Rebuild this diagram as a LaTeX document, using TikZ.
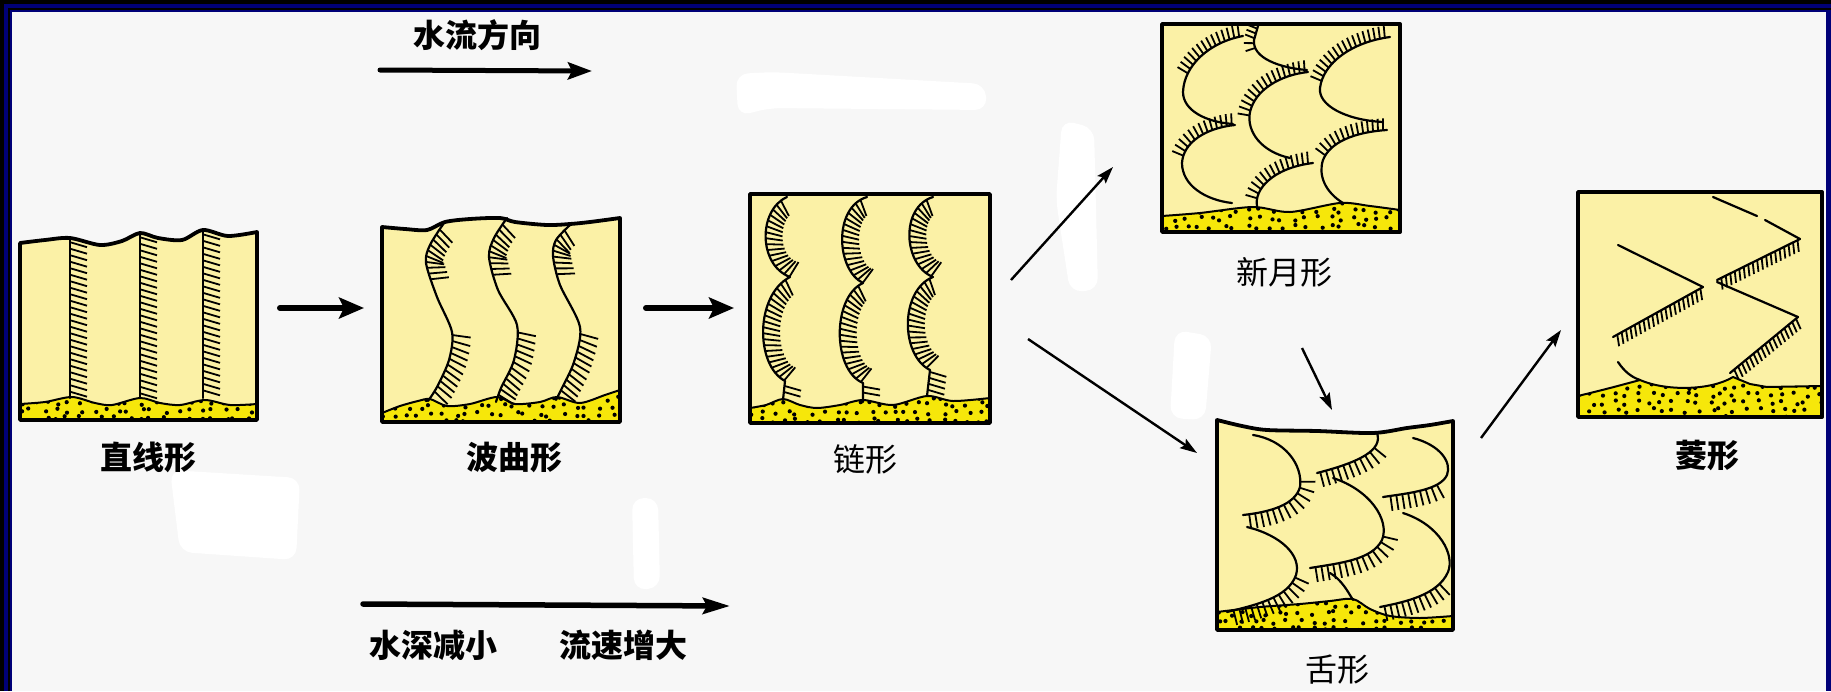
\documentclass[tikz,border=0pt]{standalone}
\usepackage{fontspec}
\newfontfamily\cjk{Noto Sans CJK SC}
\usetikzlibrary{arrows.meta,decorations.markings}

\definecolor{navy}{RGB}{0,0,120}
\definecolor{paper}{RGB}{247,247,247}
\definecolor{dune}{RGB}{251,241,166}
\definecolor{sand}{RGB}{246,231,10}

\tikzset{
  rim/.style={line width=3.8pt, line join=round},
  crest/.style={line width=2.2pt, line cap=round, line join=round},
  sandline/.style={line width=2pt, line join=round},
  tick/.style={line width=1.8pt, line cap=butt},
  hatch/.style n args={4}{postaction={decorate,decoration={markings,
      mark=between positions #1 and #2 step #3 with {\draw[tick] (0pt,0pt) -- #4;}}}},
  flow/.style={line width=6pt, line cap=round, -{Stealth[length=25pt,width=21pt,inset=5pt]}},
  trend/.style={line width=2.4pt, -{Stealth[length=17pt,width=11pt,inset=3pt]}},
  lab/.style={font=\cjk\fontsize{32}{38}\selectfont, inner sep=0pt},
  labb/.style={inner sep=0pt, font=\cjk\bfseries\fontsize{32}{38}\selectfont},
  smudge/.style={fill=white, rounded corners=12pt},
}

% scattered grains inside a sand strip
\newcommand\dotfield[4]{%
  \pgfmathtruncatemacro\dfnx{(#2-#1)/12}%
  \pgfmathtruncatemacro\dfny{(#4-#3)/8}%
  \foreach \dfi in {0,...,\dfnx}{%
    \foreach \dfj in {0,...,\dfny}{%
      \fill ({#1+\dfi*12+rnd*9},{#3+\dfj*8+rnd*5}) circle[radius=2.1];%
    }}}

% outlines of the six bed-form panels and their sand strips
\def\boxA{plot[smooth] coordinates {(20,243) (45,240) (70,238) (100,245) (122,241) (140,233) (158,238) (182,240) (203,230) (228,236) (257,232)} -- (257,420) -- (20,420) -- cycle}
\def\sandA{plot[smooth] coordinates {(20,404) (45,402) (72,397) (95,403) (112,405) (140,398) (160,403) (180,405) (205,400) (230,405) (257,404)} -- (257,420) -- (20,420) -- cycle}
\def\boxB{plot[smooth] coordinates {(382,227) (405,229) (427,230) (445,222) (470,219) (500,218) (515,222) (547,225) (570,224) (590,222) (620,218)} -- (620,422) -- (382,422) -- cycle}
\def\sandB{plot[smooth] coordinates {(382,413) (400,406) (418,401) (430,399) (447,406) (470,404) (497,397) (515,404) (540,402) (557,397) (580,403) (605,395) (620,390)} -- (620,422) -- (382,422) -- cycle}
\def\boxC{(750,194) -- (990,194) -- (990,423) -- (750,423) -- cycle}
\def\sandC{plot[smooth] coordinates {(750,408) (766,405) (783,399) (800,405) (817,408) (840,405) (863,400) (893,405) (927,396) (953,401) (990,398)} -- (990,423) -- (750,423) -- cycle}
\def\boxD{(1162,24) -- (1400,24) -- (1400,232) -- (1162,232) -- cycle}
\def\sandD{plot[smooth] coordinates {(1162,216) (1200,213) (1253,207) (1290,212) (1340,203) (1370,206) (1400,210)} -- (1400,232) -- (1162,232) -- cycle}
\def\boxE{plot[smooth] coordinates {(1217,420) (1242,426) (1267,430) (1317,431) (1373,433) (1407,428) (1430,425) (1453,421)} -- (1453,630) -- (1217,630) -- cycle}
\def\sandE{plot[smooth] coordinates {(1217,612) (1260,607) (1300,604) (1330,601) (1353,599) (1370,609) (1390,616) (1420,618) (1453,616)} -- (1453,630) -- (1217,630) -- cycle}
\def\boxF{(1578,192) -- (1822,192) -- (1822,417) -- (1578,417) -- cycle}
\def\sandF{plot[smooth] coordinates {(1578,396) (1610,388) (1640,380)} .. controls (1665,391) and (1710,391) .. (1733,377) -- (1750,384) -- (1767,387) -- (1822,386) -- (1822,417) -- (1578,417) -- cycle}

\begin{document}
\begin{tikzpicture}[x=1pt,y=-1pt]
\useasboundingbox (0,0) rectangle (1831,691);
\pgfmathsetseed{4711}

% frame and background
\fill[black] (0,0) rectangle (1831,691);
\fill[navy] (4,4) rectangle (1831,691);
\draw[black, line width=1.2pt] (9,691) -- (9,9) -- (1831,9);
\fill[paper] (12,12) rectangle (1826,691);

% faint white smudges on the sheet
\fill[smudge] (736,74) -- (772,72) -- (985,84) -- (987,110) -- (770,108) -- (738,116) -- cycle;
\fill[smudge] (1062,120) -- (1094,128) -- (1098,290) -- (1070,292) -- (1056,200) -- cycle;
\fill[smudge] (1175,330) -- (1212,336) -- (1205,420) -- (1170,418) -- cycle;
\fill[smudge] (170,470) -- (300,478) -- (296,560) -- (180,552) -- cycle;
\fill[smudge] (632,498) -- (658,498) -- (660,588) -- (634,590) -- cycle;

% ---------- panel 1: straight crests ----------
\fill[dune] \boxA;
\fill[sand] \sandA;
\begin{scope}\clip \sandA; \dotfield{16}{257}{392}{420}\end{scope}
\draw[sandline] \sandA;
\foreach \cx/\cy in {70/239, 140/234, 203/231}
  \draw[crest, hatch={0.02}{0.99}{6.5pt}{(5pt,17pt)}] (\cx,\cy) -- (\cx,398);
\draw[rim] \boxA;

% ---------- panel 2: sinuous crests ----------
\fill[dune] \boxB;
\fill[sand] \sandB;
\begin{scope}\clip \sandB; \dotfield{378}{620}{388}{422}\end{scope}
\draw[sandline] \sandB;
\draw[crest, hatch={0.04}{0.32}{6pt}{(4pt,18pt)}, hatch={0.63}{0.97}{6pt}{(4pt,18pt)}]
  plot[smooth] coordinates {(444,223) (430,245) (426,263) (437,297) (452,332) (449,360) (437,387) (428,401)};
\draw[crest, hatch={0.04}{0.32}{6pt}{(4pt,18pt)}, hatch={0.63}{0.97}{6pt}{(4pt,18pt)}]
  plot[smooth] coordinates {(507,218) (494,238) (489,257) (498,290) (517,325) (514,360) (501,388) (496,402)};
\draw[crest, hatch={0.04}{0.32}{6pt}{(4pt,18pt)}, hatch={0.63}{0.97}{6pt}{(4pt,18pt)}]
  plot[smooth] coordinates {(570,225) (556,240) (553,256) (560,285) (580,327) (574,362) (561,390) (556,400)};
\draw[rim] \boxB;

% ---------- panel 3: linguoid chains ----------
\fill[dune] \boxC;
\fill[sand] \sandC;
\begin{scope}\clip \sandC; \dotfield{746}{990}{394}{423}\end{scope}
\draw[sandline] \sandC;
\draw[crest, hatch={0.03}{0.98}{6pt}{(3pt,17pt)}]
  (787,197) .. controls (758,210) and (758,265) .. (790,277)
  .. controls (755,295) and (755,365) .. (785,381) -- (783,400);
\draw[crest, hatch={0.03}{0.98}{6pt}{(3pt,17pt)}]
  (867,197) .. controls (833,207) and (836,270) .. (863,283)
  .. controls (832,297) and (832,370) .. (863,383) -- (863,402);
\draw[crest, hatch={0.03}{0.98}{6pt}{(3pt,17pt)}]
  (933,197) .. controls (900,207) and (903,265) .. (933,277)
  .. controls (900,290) and (900,355) .. (930,370) -- (927,396);
\draw[rim] \boxC;

% ---------- panel 4: crescents ----------
\fill[dune] \boxD;
\fill[sand] \sandD;
\begin{scope}\clip \sandD; \dotfield{1158}{1400}{200}{232}\end{scope}
\draw[sandline] \sandD;
\draw[crest, hatch={0.55}{0.99}{5pt}{(1pt,12pt)}]
  (1233,124) .. controls (1205,122) and (1183,110) .. (1183,92) .. controls (1184,65) and (1210,42) .. (1243,36);
\draw[crest, hatch={0.55}{0.99}{5pt}{(1pt,12pt)}]
  (1232,203) .. controls (1205,200) and (1182,185) .. (1182,163) .. controls (1183,143) and (1205,128) .. (1235,125);
\draw[crest, hatch={0.72}{0.99}{5pt}{(1pt,10pt)}]
  (1307,70) .. controls (1280,68) and (1252,58) .. (1254,40) -- (1258,26);
\draw[crest, hatch={0.45}{0.99}{5pt}{(1pt,12pt)}]
  (1290,158) .. controls (1262,152) and (1246,132) .. (1250,112) .. controls (1255,90) and (1280,75) .. (1308,72);
\draw[crest, hatch={0.1}{0.99}{5pt}{(1pt,12pt)}]
  (1257,206) .. controls (1254,190) and (1272,168) .. (1313,163);
\draw[crest, hatch={0.5}{0.99}{5pt}{(1pt,12pt)}]
  (1383,122) .. controls (1345,120) and (1318,105) .. (1320,88) .. controls (1323,63) and (1352,42) .. (1390,37);
\draw[crest, hatch={0.45}{0.99}{5pt}{(1pt,12pt)}]
  (1343,203) .. controls (1325,192) and (1318,175) .. (1323,160) .. controls (1330,142) and (1355,132) .. (1387,130);
\draw[rim] \boxD;

% ---------- panel 5: tongues ----------
\fill[dune] \boxE;
\fill[sand] \sandE;
\begin{scope}\clip \sandE; \dotfield{1213}{1453}{595}{630}\end{scope}
\draw[sandline] \sandE;
\draw[crest, hatch={0.5}{0.98}{6pt}{(0pt,15pt)}]
  (1253,435) .. controls (1285,440) and (1303,465) .. (1300,487) .. controls (1295,505) and (1270,512) .. (1243,515);
\draw[crest, hatch={0.5}{0.98}{6pt}{(0pt,15pt)}]
  (1247,527) .. controls (1280,535) and (1302,555) .. (1296,575) .. controls (1288,598) and (1255,605) .. (1227,612);
\draw[crest, hatch={0.2}{0.98}{6pt}{(0pt,15pt)}]
  (1377,433) .. controls (1383,450) and (1360,462) .. (1317,473);
\draw[crest, hatch={0.5}{0.98}{6pt}{(0pt,15pt)}]
  (1333,478) .. controls (1370,490) and (1390,520) .. (1382,540) .. controls (1372,560) and (1340,563) .. (1310,568);
\draw[crest, hatch={0.56}{0.98}{6pt}{(0pt,15pt)}]
  (1413,438) .. controls (1440,445) and (1452,462) .. (1447,475) .. controls (1440,490) and (1410,493) .. (1383,497);
\draw[crest, hatch={0.6}{0.98}{6pt}{(0pt,15pt)}]
  (1403,513) .. controls (1440,525) and (1455,555) .. (1448,572) .. controls (1438,595) and (1405,602) .. (1380,607);
\draw[crest] (1330,573) .. controls (1342,580) and (1348,592) .. (1353,600);
\draw[rim] \boxE;

% ---------- panel 6: rhomboid ----------
\fill[dune] \boxF;
\fill[sand] \sandF;
\begin{scope}\clip \sandF; \dotfield{1574}{1822}{376}{417}\end{scope}
\draw[sandline] \sandF;
\draw[crest] (1713,197) -- (1757,216);
\draw[crest] (1765,220) -- (1800,239);
\draw[crest, hatch={0.03}{0.97}{5pt}{(4pt,11pt)}] (1800,239) -- (1717,280);
\draw[crest] (1717,282) -- (1798,317);
\draw[crest, hatch={0.03}{0.97}{5pt}{(3pt,11pt)}] (1798,317) -- (1730,373);
\draw[crest] (1618,245) -- (1703,287);
\draw[crest, hatch={0.03}{0.97}{5pt}{(4pt,11pt)}] (1703,287) -- (1613,337);
\draw[crest] (1618,362) .. controls (1624,371) and (1631,377) .. (1640,380);
\draw[rim] \boxF;

% ---------- connectors ----------
\coordinate (f1a) at (280,308);   \coordinate (f1b) at (364,308);
\coordinate (f2a) at (646,308);   \coordinate (f2b) at (734,308);
\coordinate (t1a) at (1011,280);  \coordinate (t1b) at (1113,167);
\coordinate (t2a) at (1028,339);  \coordinate (t2b) at (1197,453);
\coordinate (t3a) at (1302,348);  \coordinate (t3b) at (1332,410);
\coordinate (t4a) at (1481,438);  \coordinate (t4b) at (1561,330);
\coordinate (wa) at (380,70);     \coordinate (wb) at (592,71);
\coordinate (da) at (363,604);    \coordinate (db) at (730,606);

\draw[flow] (f1a) -- (f1b);
\draw[flow] (f2a) -- (f2b);
\draw[trend] (t1a) -- (t1b);
\draw[trend] (t2a) -- (t2b);
\draw[trend] (t3a) -- (t3b);
\draw[trend] (t4a) -- (t4b);
\draw[line width=5pt, line cap=round, -{Stealth[length=24pt,width=17pt,inset=4pt]}] (wa) -- (wb);
\draw[line width=5.5pt, line cap=round, -{Stealth[length=27pt,width=16pt,inset=4pt]}] (da) -- (db);

% ---------- labels ----------
\node[labb] (n1) at (148,457) {直线形};
\node[labb] (n2) at (514,457) {波曲形};
\node[lab]  (n3) at (865,459) {链形};
\node[lab]  (n4) at (1284,272) {新月形};
\node[lab]  (n5) at (1337,670) {舌形};
\node[labb] (n6) at (1707,455) {菱形};
\node[labb] (tw) at (477,35) {水流方向};
\node[labb] (td1) at (433,645) {水深减小};
\node[labb] (td2) at (623,645) {流速增大};
\end{tikzpicture}
\end{document}
